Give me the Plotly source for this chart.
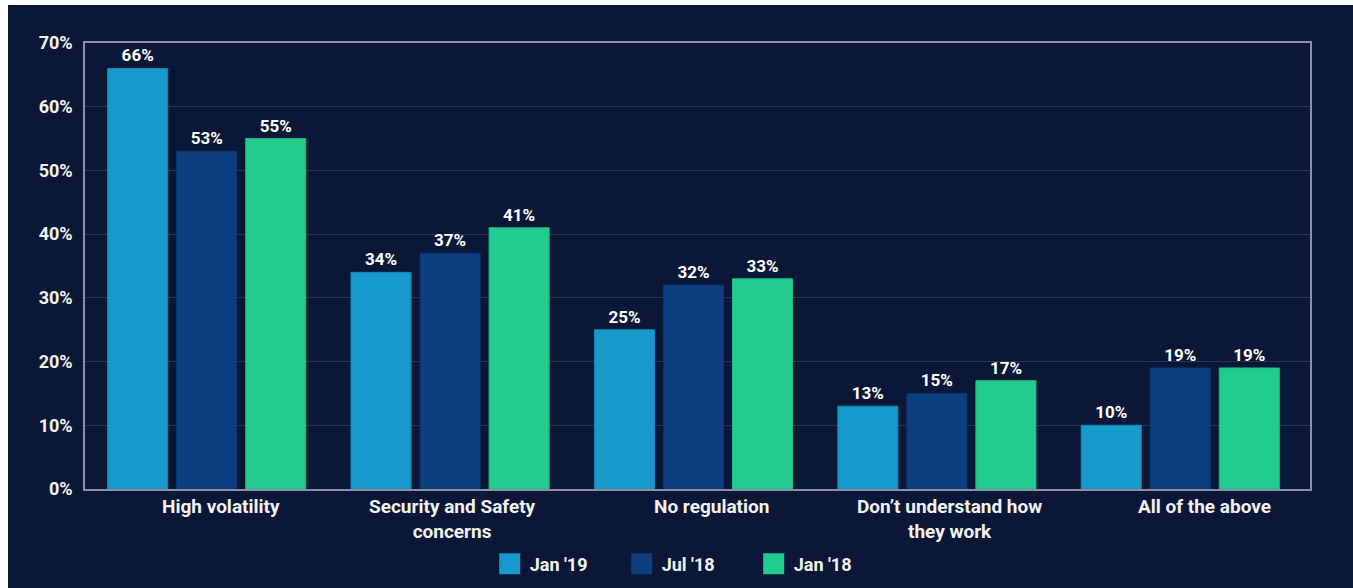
import plotly.graph_objects as go

# Survey data: reasons for not investing, by survey wave
categories = ["High volatility", "Security and Safety<br>concerns", "No regulation",
              "Don’t understand how<br>they work", "All of the above"]
series_names = ["Jan '19", "Jul '18", "Jan '18"]
jan19 = [66, 34, 25, 13, 10]
jul18 = [53, 37, 32, 15, 19]
jan18 = [55, 41, 33, 17, 19]
y_ticks = [0, 10, 20, 30, 40, 50, 60, 70]

colors = ["#1899cc", "#0b3f80", "#22cc8f"]
edge_colors = ["#1488b6", "#0a3670", "#1fb883"]
label_shift = [14, 2, 18, 13, 24]

BG = "#0b1736"
FONT = "Roboto"

fig = go.Figure()
for name, vals, c, ec in zip(series_names, [jan19, jul18, jan18], colors, edge_colors):
    fig.add_trace(go.Bar(
        x=list(range(len(categories))), y=vals, name=name,
        marker=dict(color=c, line=dict(color=ec, width=1)),
        text=[f"{v}%" for v in vals], textposition="outside",
        textfont=dict(family=FONT, size=17, color="#ffffff", weight="bold"),
        cliponaxis=False, showlegend=False, hoverinfo="skip",
    ))
    # square legend swatch
    fig.add_trace(go.Scatter(
        x=[None], y=[None], mode="markers", name=name,
        marker=dict(symbol="square", size=16, color=c, line=dict(color=c, width=5)),
    ))

# category labels below the axis
for i, (cat, dx) in enumerate(zip(categories, label_shift)):
    fig.add_annotation(
        x=i, y=0, xref="x", yref="paper", text=f"<b>{cat}</b>", showarrow=False,
        yanchor="top", yshift=-4, xshift=dx,
        font=dict(family=FONT, size=19, color="#f2f2f2"), align="center",
    )

# dark panel behind the whole chart
fig.add_shape(type="rect", xref="paper", yref="paper", layer="below",
              x0=(8 - 85) / 1225, x1=(1353 - 85) / 1225,
              y0=(489 - 600) / 446, y1=(489 - 5) / 446,
              fillcolor=BG, line=dict(width=0))

fig.update_layout(
    width=1353, height=588,
    margin=dict(l=85, r=43, t=43, b=99, autoexpand=False),
    paper_bgcolor="#ffffff", plot_bgcolor=BG,
    barmode="group", bargap=0.149, bargroupgap=0.13,
    font=dict(family=FONT, color="#f2f2f2"),
    legend=dict(orientation="h", x=0.492, xanchor="center", y=-0.168, yanchor="middle",
                font=dict(family=FONT, size=18, color="#f2f2f2", weight="bold"),
                bgcolor="rgba(0,0,0,0)", entrywidth=87, entrywidthmode="pixels"),
)
fig.update_xaxes(range=[-0.5, 4.533], showticklabels=False, showgrid=False,
                 showline=True, linecolor="#8a90a8", linewidth=1.5, mirror=True,
                 zeroline=False)
fig.update_yaxes(range=[0, 70], tickvals=y_ticks, ticktext=[f"{t}%" for t in y_ticks],
                 showgrid=True, gridcolor="#2a3555", gridwidth=1,
                 showline=True, linecolor="#8a90a8", linewidth=1.5, mirror=True,
                 zeroline=False, ticks="", ticklen=0, ticklabelstandoff=7,
                 tickfont=dict(family=FONT, size=18, color="#f2f2f2", weight="bold"))

fig.write_html("out.html")
